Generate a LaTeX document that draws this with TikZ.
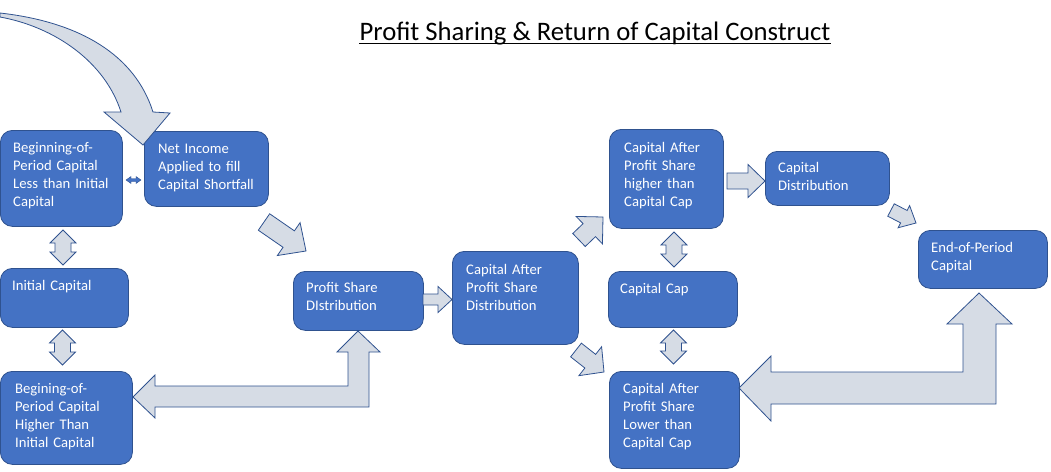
\documentclass[tikz,border=0pt]{standalone}
\usepackage{fontspec}
\setmainfont{Carlito}
\usetikzlibrary{calc}
\definecolor{BoxClr}{HTML}{4472C4}
\definecolor{EdgeClr}{HTML}{2F528F}
\definecolor{ArrowClr}{HTML}{D6DCE5}

% block arrow: tail, tip, shaft half width, head half width, head length
\newcommand\fatarrow[5]{%
  \coordinate (fh) at ($(#2)!#5!(#1)$);
  \draw[blockarrow] ($(#1)!#3!90:(#2)$) -- ($(fh)!#3!-90:(#1)$) -- ($(fh)!#4!-90:(#1)$) -- (#2)
    -- ($(fh)!#4!90:(#1)$) -- ($(fh)!#3!90:(#1)$) -- ($(#1)!#3!-90:(#2)$) -- cycle;
}
% two headed block arrow
\newcommand\twinarrow[6][blockarrow]{%
  \coordinate (ha) at ($(#2)!#6!(#3)$);
  \coordinate (hb) at ($(#3)!#6!(#2)$);
  \draw[#1] (#2) -- ($(ha)!#5!90:(#3)$) -- ($(ha)!#4!90:(#3)$) -- ($(hb)!#4!-90:(#2)$)
    -- ($(hb)!#5!-90:(#2)$) -- (#3) -- ($(hb)!#5!90:(#2)$) -- ($(hb)!#4!90:(#2)$)
    -- ($(ha)!#4!-90:(#3)$) -- ($(ha)!#5!-90:(#3)$) -- cycle;
}

\begin{document}
\begin{tikzpicture}[x=1pt,y=-1pt,
  capbox/.style={draw=EdgeClr,fill=BoxClr,line width=0.8pt,rounded corners=12pt,
    anchor=north west,inner sep=0pt},
  captext/.style={anchor=base west,inner sep=0pt,text=white,text width=120pt,align=left,
    font=\fontsize{14.67}{18}\selectfont},
  blockarrow/.style={draw=EdgeClr,fill=ArrowClr,line width=0.8pt,line join=miter},
  tinyarrow/.style={draw=EdgeClr,fill=BoxClr,line width=0.4pt}]
\useasboundingbox (0,0) rectangle (1051,471);

\node[font=\fontsize{26.7}{30}\selectfont,anchor=base,inner sep=0pt] (title) at (595,40)
  {Profit Sharing \& Return of Capital Construct};
\draw[line width=1.5pt] ($(title.base west)+(0,3.5)$) -- ($(title.base east)+(0,3.5)$);

% boxes
\node[capbox,minimum width=122pt,minimum height=96pt] (bopless) at (0,130) {};
\node[capbox,minimum width=124pt,minimum height=75pt] (netinc) at (144,131) {};
\node[capbox,minimum width=128pt,minimum height=59pt] (initcap) at (0,268) {};
\node[capbox,minimum width=132pt,minimum height=93pt] (bophigh) at (0,371) {};
\node[capbox,minimum width=130pt,minimum height=59pt] (psdist) at (293,271) {};
\node[capbox,minimum width=126pt,minimum height=93pt] (capafter) at (452,251) {};
\node[capbox,minimum width=114pt,minimum height=99pt] (caphigh) at (609,129) {};
\node[capbox,minimum width=129pt,minimum height=56pt] (capcap) at (608,271) {};
\node[capbox,minimum width=130pt,minimum height=97pt] (caplow) at (609,371) {};
\node[capbox,minimum width=124pt,minimum height=54pt] (capdist) at (765,151) {};
\node[capbox,minimum width=129pt,minimum height=58pt] (eopcap) at (918,230) {};

\node[captext] (bopless-t) at ($(bopless.north west)+(13,22)$)
  {Beginning-of-\\Period Capital\\Less than Initial\\Capital};
\node[captext] (netinc-t) at ($(netinc.north west)+(14,22)$)
  {Net Income\\Applied to fill\\Capital Shortfall};
\node[captext] (initcap-t) at ($(initcap.north west)+(12,22)$) {Initial Capital};
\node[captext] (bophigh-t) at ($(bophigh.north west)+(15,22)$)
  {Begining-of-\\Period Capital\\Higher Than\\Initial Capital};
\node[captext] (psdist-t) at ($(psdist.north west)+(13,21)$) {Profit Share\\DIstribution};
\node[captext] (capafter-t) at ($(capafter.north west)+(14,23)$)
  {Capital After\\Profit Share\\Distribution};
\node[captext] (caphigh-t) at ($(caphigh.north west)+(15,23)$)
  {Capital After\\Profit Share\\higher than\\Capital Cap};
\node[captext] (capcap-t) at ($(capcap.north west)+(12,22)$) {Capital Cap};
\node[captext] (caplow-t) at ($(caplow.north west)+(14,22)$)
  {Capital After\\Profit Share\\Lower than\\Capital Cap};
\node[captext] (capdist-t) at ($(capdist.north west)+(13,21)$) {Capital\\Distribution};
\node[captext] (eopcap-t) at ($(eopcap.north west)+(13,22)$) {End-of-Period\\Capital};

% curved arrow coming in
\coordinate (inflow) at (0,15);
\draw[blockarrow] (0,13) .. controls (80,22) and (135,55) .. (153,112) -- (170,113)
  -- ($(netinc.north west)+(-1,14)$) -- (104,112) -- (121,112)
  .. controls (105,62) and (55,27) .. (0,17) -- cycle;

% straight arrows
\coordinate (ni-out) at (264,222); \coordinate (ps-in) at (306,251);
\fatarrow{ni-out}{ps-in}{10pt}{20pt}{21pt}
\coordinate (ps-out) at (423,299.5); \coordinate (ca-in) at (452,299.5);
\fatarrow{ps-out}{ca-in}{5.5pt}{13pt}{14pt}
\coordinate (ca-up) at (579,240); \coordinate (ch-in) at (603,217);
\fatarrow{ca-up}{ch-in}{9pt}{19pt}{19pt}
\coordinate (ca-dn) at (576,350); \coordinate (cl-in) at (604,372);
\fatarrow{ca-dn}{cl-in}{8.7pt}{18.4pt}{17.5pt}
\coordinate (ch-out) at (727,181); \coordinate (cd-in) at (765,181);
\fatarrow{ch-out}{cd-in}{8pt}{16.5pt}{17pt}
\coordinate (cd-out) at (891,210); \coordinate (eo-in) at (916,223);
\fatarrow{cd-out}{eo-in}{7pt}{12.5pt}{13.7pt}

% two headed arrows
\coordinate (bl-s) at (63,230); \coordinate (ic-n) at (63,265);
\twinarrow{bl-s}{ic-n}{8pt}{13pt}{13pt}
\coordinate (ic-s) at (62.5,330); \coordinate (bh-n) at (62.5,365);
\twinarrow{ic-s}{bh-n}{8pt}{13pt}{13pt}
\coordinate (ch-s) at (674,232); \coordinate (cc-n) at (674,267);
\twinarrow{ch-s}{cc-n}{8pt}{13pt}{13pt}
\coordinate (cc-s) at (673.5,330); \coordinate (cl-n) at (673.5,364);
\twinarrow{cc-s}{cl-n}{8pt}{13pt}{13pt}
\coordinate (bl-e) at (126,180); \coordinate (ni-w) at (141,180);
\twinarrow[tinyarrow]{bl-e}{ni-w}{1.5pt}{3.5pt}{5pt}

% bent arrows back to the left
\draw[blockarrow] (358,331) -- (380,352) -- (369,352) -- (369,407) -- (155,407) -- (155,418)
  -- (133,397) -- (155,375) -- (155,386) -- (348,386) -- (348,352) -- (337,352) -- cycle;
\draw[blockarrow] (979,293) -- (1012,324) -- (996,324) -- (996,404) -- (771,404) -- (771,421)
  -- (739,388) -- (771,356) -- (771,372) -- (963,372) -- (963,324) -- (947,324) -- cycle;

\end{tikzpicture}
\end{document}
